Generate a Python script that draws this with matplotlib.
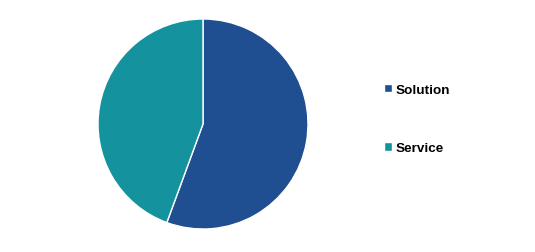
import matplotlib.pyplot as plt

labels = ["Solution", "Service"]
shares = [55.6, 44.4]
colors = ["#1f4e91", "#14929d"]

W, H = 535, 253
fig = plt.figure(figsize=(W / 100, H / 100), dpi=100)

# pie centred at (203, 125) px, radius ~105 px
cx, cy, r = 203, 125, 105
ax = fig.add_axes([(cx - r) / W, (H - cy - r) / H, 2 * r / W, 2 * r / H])
wedges, _ = ax.pie(shares, colors=colors, startangle=90, counterclock=False,
                   wedgeprops=dict(edgecolor="white", linewidth=1))
ax.set_xlim(-1, 1)
ax.set_ylim(-1, 1)
ax.set_aspect("equal")
ax.axis("off")

leg = fig.legend(wedges, labels, loc="center left",
                 bbox_to_anchor=(372 / W, 1 - 120 / H),
                 frameon=False, handlelength=0.55, handleheight=0.55,
                 handletextpad=0.3, labelspacing=3.45,
                 prop=dict(family="Liberation Sans", weight="bold", size=9.7))

fig.savefig("out.png", dpi=100)
